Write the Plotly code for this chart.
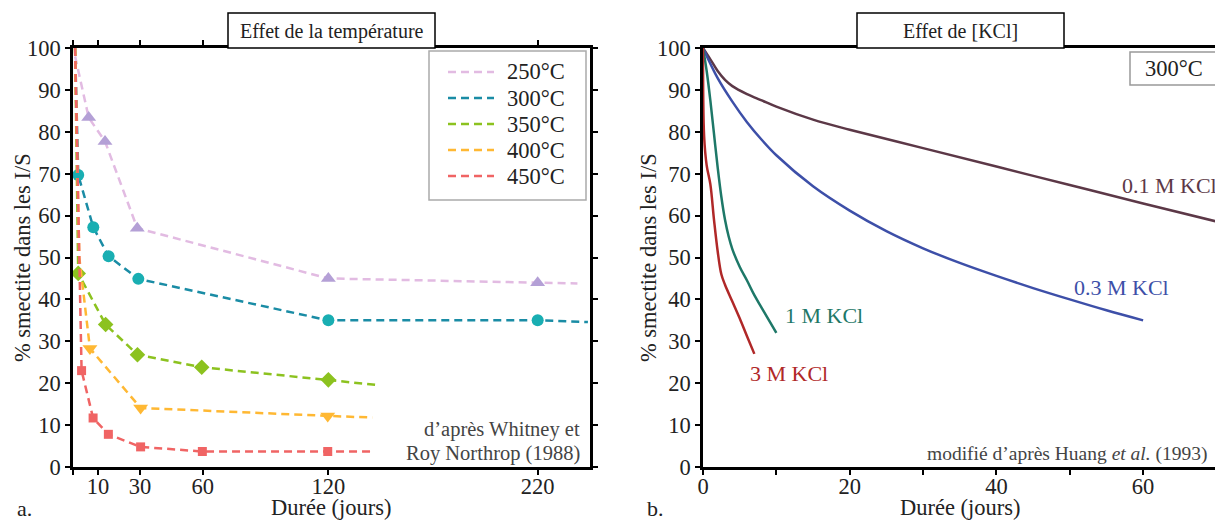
import plotly.graph_objects as go

W, H = 1215, 520
FONT = "Liberation Serif"

# ---------------- data: left panel (effect of temperature) ----------------
temps = ["250°C", "300°C", "350°C", "400°C", "450°C"]
t250 = [-1, 5.5, 13.3, 28.7, 120, 220, 239]
s250 = [98, 83.4, 77.7, 57.0, 45.0, 44.0, 43.8]
t300 = [-1, 0.5, 7.7, 15.0, 29.2, 120, 220, 244]
s300 = [100, 69.7, 57.2, 50.3, 44.9, 35.0, 35.0, 34.6]
t350 = [-1, 0.5, 13.6, 28.8, 59.5, 120, 143]
s350 = [100, 46.2, 34.0, 26.8, 23.8, 20.8, 19.6]
t400 = [-1, 1.0, 6.1, 30.3, 119.7, 141]
s400 = [100, 50.0, 28.3, 14.1, 12.2, 11.8]
t450 = [-1, 2.1, 7.6, 14.9, 30.3, 59.8, 119.7, 141]
s450 = [100, 23.0, 11.7, 7.8, 4.8, 3.7, 3.7, 3.7]
first_marked = [1, 1, 1, 2, 1]   # index of first measured point in each series

left_xticks = [-2, 10, 30, 60, 120, 220]
left_xtext = ["", "10", "30", "60", "120", "220"]
yticks = list(range(0, 101, 10))

# ---------------- data: right panel (effect of [KCl]) ----------------
kcl_names = ["0.1 M KCl", "0.3 M KCl", "1 M KCl", "3 M KCl"]
t01 = [0, 1, 2, 3, 4, 6, 8, 10, 15, 20, 30, 40, 50, 60, 70]
s01 = [100, 97.3, 94.5, 92.4, 90.9, 89.0, 87.5, 86.0, 82.9, 80.5, 76.1, 71.7, 67.3, 62.9, 58.6]
t03 = [0, 2, 4, 6, 8, 10, 15, 20, 25, 30, 35, 40, 45, 50, 55, 60]
s03 = [100, 92.8, 87.2, 82.3, 78.1, 74.4, 67.0, 61.2, 56.3, 52.2, 48.7, 45.6, 42.7, 40.0, 37.4, 35.0]
t1 = [0, 0.5, 1, 1.5, 2, 2.5, 3, 3.5, 4, 5, 6, 7, 8, 9, 10]
s1 = [100, 94.5, 87.5, 79.5, 71.5, 64.5, 59.0, 55.0, 52.0, 47.8, 44.5, 41.0, 38.0, 35.0, 32.0]
t3 = [0, 0.15, 0.5, 1, 1.5, 2, 2.5, 3, 4, 5, 6, 7]
s3 = [100, 79.0, 72.0, 67.5, 59.0, 51.5, 46.0, 43.5, 39.5, 35.5, 31.2, 27.0]

right_xticks = [0, 10, 20, 30, 40, 50, 60, 70]
right_xtext = ["0", "", "20", "", "40", "", "60", ""]

# ---------------- styles ----------------
line_cols = ["#e2bbe2", "#1a8ca5", "#8cc21f", "#ffb833", "#f06464"]
mark_cols = ["#b4a0d6", "#19aeb2", "#8cc21f", "#ffb833", "#f06464"]
symbols = ["triangle-up", "circle", "diamond", "triangle-down", "square"]
msizes = [13, 12, 12, 13, 9]
kcl_cols = ["#5c3847", "#3d4fa8", "#1e7868", "#b02828"]
DASH = "8px,5px"


def px(x):
    return x / W


def py(y):
    return 1 - y / H


fig = go.Figure()

left_series = [(t250, s250), (t300, s300), (t350, s350), (t400, s400), (t450, s450)]
for i, (t, s) in enumerate(left_series):
    fig.add_trace(go.Scatter(
        x=t, y=s, mode="lines", name=temps[i],
        line=dict(color=line_cols[i], width=2.5, dash=DASH),
        xaxis="x", yaxis="y", showlegend=False, cliponaxis=False))
    k = first_marked[i]
    fig.add_trace(go.Scatter(
        x=t[k:-1], y=s[k:-1], mode="markers", name=temps[i],
        marker=dict(color=mark_cols[i], symbol=symbols[i], size=msizes[i]),
        xaxis="x", yaxis="y", showlegend=False, cliponaxis=False))

right_series = [(t01, s01), (t03, s03), (t1, s1), (t3, s3)]
for i, (t, s) in enumerate(right_series):
    fig.add_trace(go.Scatter(
        x=t, y=s, mode="lines", name=kcl_names[i],
        line=dict(color=kcl_cols[i], width=2.5, shape="spline", smoothing=1.0),
        xaxis="x2", yaxis="y2", showlegend=False))

axis_common = dict(
    showline=True, linecolor="black", linewidth=2.5, showgrid=False, zeroline=False,
    ticks="outside", ticklen=5, tickwidth=2, tickcolor="black", automargin=False,
    tickfont=dict(family=FONT, size=22.5, color="#222"),
)
ydom = [py(467), py(48)]

fig.update_layout(
    width=W, height=H,
    margin=dict(l=0, r=0, t=0, b=0, autoexpand=False),
    paper_bgcolor="white", plot_bgcolor="white",
    font=dict(family=FONT, color="#222"),
    xaxis=dict(domain=[px(73), px(590)], range=[-2, 245], tickvals=left_xticks,
               ticktext=left_xtext, anchor="y", mirror="ticks", ticklabelstandoff=-8,
               **axis_common),
    yaxis=dict(domain=ydom, range=[0, 100], tickvals=yticks, anchor="x",
               mirror="ticks", **axis_common),
    xaxis2=dict(domain=[px(703), 1.0], range=[0, 69.8], tickvals=right_xticks,
                ticktext=right_xtext, anchor="y2", mirror=True, ticklabelstandoff=-8,
                **axis_common),
    yaxis2=dict(domain=ydom, range=[0, 100], tickvals=yticks, anchor="x2",
                mirror=False, **axis_common),
    showlegend=False,
)

shapes = []
ann = []

# legend (drawn box, dashed samples, labels)
shapes.append(dict(type="rect", xref="paper", yref="paper",
                   x0=px(429), x1=px(586), y0=py(200), y1=py(51),
                   line=dict(color="#aaaaaa", width=1.5), fillcolor="white", layer="above"))
for i, name in enumerate(temps):
    yy = 72 + 26 * i
    shapes.append(dict(type="line", xref="paper", yref="paper",
                       x0=px(448), x1=px(494), y0=py(yy), y1=py(yy),
                       line=dict(color=line_cols[i], width=2.5, dash=DASH), layer="above"))
    ann.append(dict(text=name, xref="paper", yref="paper", x=px(505), y=py(yy),
                    showarrow=False, xanchor="left", yanchor="middle",
                    font=dict(family=FONT, size=22.5, color="#222")))

# title boxes
for (x0, x1, txt) in [(228, 435, "Effet de la température"), (857, 1064, "Effet de [KCl]")]:
    shapes.append(dict(type="rect", xref="paper", yref="paper",
                       x0=px(x0), x1=px(x1), y0=py(48), y1=py(13),
                       line=dict(color="black", width=1.5), fillcolor="white", layer="above"))
    ann.append(dict(text=txt, xref="paper", yref="paper", x=px((x0 + x1) / 2), y=py(31),
                    showarrow=False, xanchor="center", yanchor="middle",
                    font=dict(family=FONT, size=20, color="#222")))

# 300°C box
shapes.append(dict(type="rect", xref="paper", yref="paper",
                   x0=px(1130), x1=px(1216), y0=py(85), y1=py(52),
                   line=dict(color="#999999", width=1.5), fillcolor="white", layer="above"))
ann.append(dict(text="300°C", xref="paper", yref="paper", x=px(1143), y=py(69),
                showarrow=False, xanchor="left", yanchor="middle",
                font=dict(family=FONT, size=22.5, color="#222")))

# curve labels on right panel
lab_pos = [(1120, 185), (1072, 287), (783, 315), (748, 373)]
for i, (lx, ly) in enumerate(lab_pos):
    ann.append(dict(text=kcl_names[i], xref="paper", yref="paper", x=px(lx), y=py(ly),
                    showarrow=False, xanchor="left", yanchor="middle",
                    font=dict(family=FONT, size=22, color=kcl_cols[i])))

# source texts
ann.append(dict(text="d’après Whitney et", xref="paper", yref="paper", x=px(582), y=py(429),
                showarrow=False, xanchor="right", yanchor="middle",
                font=dict(family=FONT, size=20.5, color="#444")))
ann.append(dict(text="Roy Northrop (1988)", xref="paper", yref="paper", x=px(582), y=py(453),
                showarrow=False, xanchor="right", yanchor="middle",
                font=dict(family=FONT, size=20.5, color="#444")))
ann.append(dict(text="modifié d’après Huang <i>et al.</i> (1993)", xref="paper", yref="paper",
                x=px(1210), y=py(454), showarrow=False, xanchor="right", yanchor="middle",
                font=dict(family=FONT, size=19.5, color="#444")))

# axis titles
for cx in (331, 960):
    ann.append(dict(text="Durée (jours)", xref="paper", yref="paper", x=px(cx), y=py(507),
                    showarrow=False, xanchor="center", yanchor="middle",
                    font=dict(family=FONT, size=22.5, color="#222")))
for cx in (22, 648):
    ann.append(dict(text="% smectite dans les I/S", xref="paper", yref="paper", x=px(cx), y=py(258),
                    showarrow=False, xanchor="center", yanchor="middle", textangle=-90,
                    font=dict(family=FONT, size=22.5, color="#222")))

# panel letters
ann.append(dict(text="a.", xref="paper", yref="paper", x=px(15), y=py(508), showarrow=False,
                xanchor="left", yanchor="middle", font=dict(family=FONT, size=22, color="#222")))
ann.append(dict(text="b.", xref="paper", yref="paper", x=px(645), y=py(508), showarrow=False,
                xanchor="left", yanchor="middle", font=dict(family=FONT, size=22, color="#222")))

fig.update_layout(shapes=shapes, annotations=ann)
fig.write_html("out.html", config={"displayModeBar": False},
               post_script="document.body.style.margin='0';document.body.style.overflow='hidden';")
